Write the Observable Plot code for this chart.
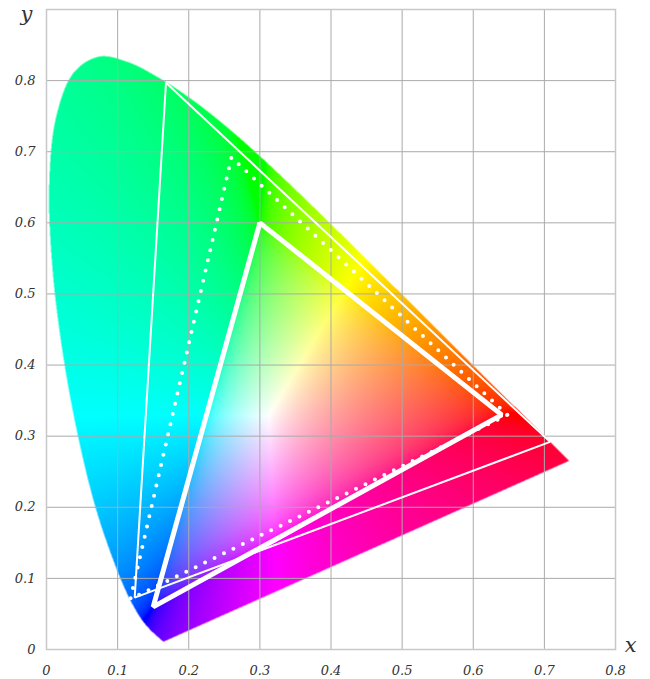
<!DOCTYPE html>
<html>
<head>
<meta charset="utf-8">
<script src="https://cdn.jsdelivr.net/npm/d3@7"></script>
<script src="https://cdn.jsdelivr.net/npm/@observablehq/plot@0.6"></script>
<style>
  html, body { margin: 0; padding: 0; background: #fff; }
</style>
</head>
<body>
<div id="chart"></div>
<script>
// CIE 1931 spectral locus (440 nm – 700 nm, 5 nm steps)
const locusX = [0.1644, 0.1611, 0.1566, 0.1510, 0.1440, 0.1355, 0.1241, 0.1096, 0.0913, 0.0687,
  0.0454, 0.0235, 0.0082, 0.0039, 0.0139, 0.0389, 0.0743, 0.1142, 0.1547, 0.1929,
  0.2296, 0.2658, 0.3016, 0.3373, 0.3731, 0.4087, 0.4441, 0.4788, 0.5125, 0.5448,
  0.5752, 0.6029, 0.6270, 0.6482, 0.6658, 0.6801, 0.6915, 0.7006, 0.7079, 0.7140,
  0.7190, 0.7230, 0.7260, 0.7283, 0.7300, 0.7311, 0.7320, 0.7327, 0.7334, 0.7340,
  0.7344, 0.7346, 0.7347];
const locusY = [0.0109, 0.0138, 0.0177, 0.0227, 0.0297, 0.0399, 0.0578, 0.0868, 0.1327, 0.2007,
  0.2950, 0.4127, 0.5384, 0.6548, 0.7502, 0.8120, 0.8338, 0.8262, 0.8059, 0.7816,
  0.7543, 0.7243, 0.6923, 0.6589, 0.6245, 0.5896, 0.5547, 0.5202, 0.4866, 0.4544,
  0.4242, 0.3965, 0.3725, 0.3514, 0.3340, 0.3197, 0.3083, 0.2993, 0.2920, 0.2859,
  0.2809, 0.2770, 0.2740, 0.2717, 0.2700, 0.2689, 0.2680, 0.2673, 0.2666, 0.2660,
  0.2656, 0.2654, 0.2653];

// Gamut triangles (R, G, B primaries)
const srgbX = [0.64, 0.30, 0.15];
const srgbY = [0.33, 0.60, 0.06];
const dottedX = [0.648, 0.260, 0.118];
const dottedY = [0.330, 0.692, 0.071];
const wideX = [0.708, 0.168, 0.124];
const wideY = [0.292, 0.797, 0.073];

// Tick values
const xTicks = [0, 0.1, 0.2, 0.3, 0.4, 0.5, 0.6, 0.7, 0.8];
const yTicks = [0, 0.1, 0.2, 0.3, 0.4, 0.5, 0.6, 0.7, 0.8];

const toPts = (xs, ys) => xs.map((x, i) => ({x, y: ys[i]}));
const locus = toPts(locusX, locusY);

// Clip test for the locus outline (curved locus + straight line of purples)
const K = 1000;
const ctx = document.createElement("canvas").getContext("2d");
const locusPath = new Path2D(
  d3.line().x(d => d.x * K).y(d => d.y * K).curve(d3.curveCatmullRom)(locus) + "Z"
);

function gammaEnc(c) {
  return c <= 0.0031308 ? 12.92 * c : 1.055 * Math.pow(c, 1 / 2.4) - 0.055;
}
function chromaColor(x, y) {
  if (!ctx.isPointInPath(locusPath, x * K, y * K)) return null;
  const X = x / y, Y = 1, Z = (1 - x - y) / y;
  let r = 3.2406 * X - 1.5372 * Y - 0.4986 * Z;
  let g = -0.9689 * X + 1.8758 * Y + 0.0415 * Z;
  let b = 0.0557 * X - 0.2040 * Y + 1.0570 * Z;
  const mn = Math.min(r, g, b);
  if (mn < 0) { r -= 0.5 * mn; g -= 0.5 * mn; b -= 0.5 * mn; }
  r = Math.max(0, r); g = Math.max(0, g); b = Math.max(0, b);
  const m = Math.max(r, g, b) || 1;
  r = gammaEnc(r / m); g = gammaEnc(g / m); b = gammaEnc(b / m);
  return d3.rgb(r * 255, g * 255, b * 255).formatHex();
}

const chart = Plot.plot({
  width: 650,
  height: 679,
  marginLeft: 46,
  marginRight: 35,
  marginTop: 9,
  marginBottom: 30,
  style: {fontFamily: "'DejaVu Serif', serif", fontStyle: "italic", fontSize: "13px", color: "#333"},
  x: {domain: [0, 0.8], label: null},
  y: {domain: [0, 0.9], label: null},
  color: {type: "identity"},
  marks: [
    Plot.raster({fill: chromaColor, x1: 0, x2: 0.8, y1: 0, y2: 0.9, pixelSize: 0.5}),
    Plot.gridX(xTicks.filter(d => d > 0 && d < 0.8), {stroke: "#aaa", strokeOpacity: 1}),
    Plot.gridY(yTicks.filter(d => d > 0), {stroke: "#aaa", strokeOpacity: 1}),
    Plot.frame({stroke: "#c8c8c8", strokeWidth: 1.5}),
    Plot.axisX(xTicks, {tickSize: 0, tickPadding: 16, tickFormat: d => String(d), label: null, fill: "#333"}),
    Plot.axisY(yTicks, {tickSize: 0, tickPadding: 11, tickFormat: d => String(d), label: null, fill: "#333"}),
    Plot.line(toPts(wideX, wideY), {x: "x", y: "y", curve: "linear-closed", stroke: "white", strokeWidth: 2, strokeLinejoin: "miter"}),
    Plot.line(toPts(dottedX, dottedY), {x: "x", y: "y", curve: "linear-closed", stroke: "white", strokeWidth: 4, strokeDasharray: "0 10.5", strokeLinecap: "round"}),
    Plot.line(toPts(srgbX, srgbY), {x: "x", y: "y", curve: "linear-closed", stroke: "white", strokeWidth: 5, strokeLinejoin: "miter"}),
    Plot.text(["y"], {frameAnchor: "top-left", dx: -26, dy: -3, fontSize: 21, fill: "#333"}),
    Plot.text(["x"], {frameAnchor: "bottom-right", dx: 21, dy: 2, fontSize: 21, fill: "#333"})
  ]
});
document.getElementById("chart").appendChild(chart);
</script>
</body>
</html>
